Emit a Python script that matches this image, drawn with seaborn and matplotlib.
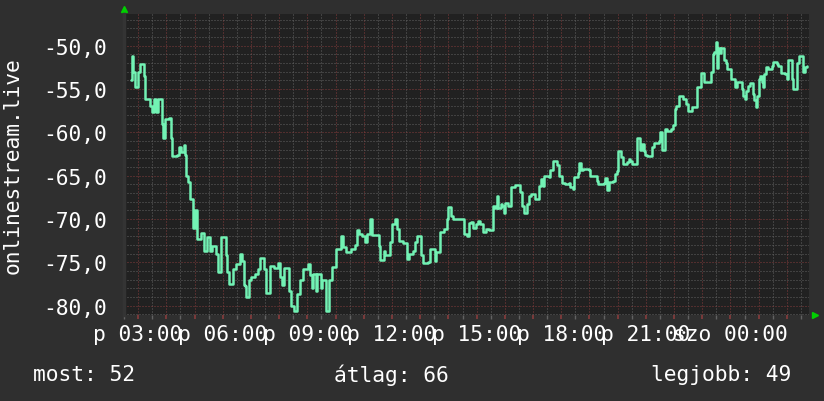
import matplotlib
matplotlib.use("Agg")
import matplotlib.pyplot as plt
import seaborn as sns
import pandas as pd
import numpy as np

# ---- data (minutes since Friday 00:00, signal value) ----
time_min = [164, 166, 169, 173, 180, 184, 190, 192, 194, 203, 206, 210, 213, 218, 222, 227,
            230, 234, 238, 244, 246, 249, 253, 259, 263, 266, 271, 277, 279, 282, 287, 291,
            296, 301, 305, 310, 314, 317, 321, 326, 329, 333, 338, 342, 345, 350, 354, 356,
            363, 366, 369, 373, 379, 382, 386, 389, 393, 396, 400, 403, 405, 407, 410, 414,
            415, 421, 424, 428, 431, 435, 440, 445, 447, 453, 460, 461, 466, 470, 474, 477,
            481, 486, 491, 498, 502, 505, 509, 512, 516, 519, 524, 530, 537, 542, 545, 550,
            552, 558, 561, 565, 569, 572, 576, 580, 585, 586, 590, 593, 597, 600, 607, 611,
            616, 620, 623, 628, 632, 639, 642, 646, 649, 653, 656, 660, 663, 667, 673, 677,
            688, 692, 695, 699, 702, 706, 713, 716, 720, 723, 727, 730, 734, 741, 744, 748,
            751, 757, 762, 765, 769, 774, 779, 781, 785, 793, 797, 801, 808, 811, 814, 822,
            825, 830, 836, 839, 844, 846, 850, 871, 874, 879, 883, 888, 892, 895, 899, 902,
            908, 913, 917, 920, 924, 927, 932, 934, 938, 939, 943, 946, 949, 952, 955, 959,
            961, 964, 967, 971, 974, 978, 982, 990, 992, 996, 997, 1001, 1004, 1008, 1011,
            1015, 1022, 1025, 1029, 1033, 1037, 1042, 1044, 1050, 1054, 1057, 1063, 1068,
            1071, 1075, 1078, 1082, 1085, 1089, 1092, 1096, 1099, 1103, 1105, 1108, 1112,
            1115, 1118, 1122, 1126, 1133, 1134, 1138, 1141, 1152, 1156, 1159, 1166, 1170,
            1173, 1174, 1177, 1181, 1187, 1191, 1194, 1198, 1201, 1205, 1208, 1212, 1215,
            1219, 1221, 1224, 1227, 1231, 1240, 1242, 1245, 1248, 1252, 1255, 1259, 1263,
            1270, 1273, 1277, 1284, 1287, 1291, 1294, 1298, 1301, 1305, 1310, 1314, 1317,
            1321, 1324, 1328, 1331, 1335, 1338, 1342, 1345, 1350, 1356, 1359, 1363, 1368,
            1373, 1377, 1380, 1383, 1394, 1398, 1402, 1405, 1409, 1411, 1413, 1417, 1420,
            1424, 1426, 1430, 1433, 1439, 1442, 1446, 1449, 1453, 1461, 1465, 1467, 1470,
            1474, 1477, 1481, 1486, 1488, 1491, 1494, 1497, 1500, 1503, 1507, 1509, 1512,
            1516, 1519, 1524, 1528, 1531, 1535, 1539, 1542, 1544, 1547, 1553, 1556, 1560,
            1563, 1567, 1570, 1572, 1579, 1582, 1586, 1591, 1595, 1598, 1602]
signal = [-54.0, -51.2, -53.0, -54.8, -53.0, -52.1, -52.1, -53.5, -56.1, -56.1, -57.0, -57.7,
          -56.1, -57.6, -56.1, -56.1, -59.0, -60.6, -58.5, -58.5, -58.3, -60.6, -62.7, -62.7,
          -62.6, -61.7, -62.3, -61.5, -62.6, -65.0, -65.7, -67.7, -71.0, -69.0, -72.3, -72.3,
          -71.6, -71.6, -73.7, -72.1, -72.1, -73.7, -73.1, -73.1, -74.0, -76.1, -76.1, -72.1,
          -72.1, -74.2, -76.1, -77.5, -77.5, -75.8, -75.8, -75.2, -75.2, -74.0, -74.8, -74.8,
          -77.6, -77.7, -79.0, -79.0, -77.0, -76.7, -76.7, -76.3, -76.3, -75.8, -74.5, -74.5,
          -75.8, -78.5, -78.5, -75.4, -75.4, -75.6, -75.6, -75.1, -76.7, -77.6, -75.7, -75.7,
          -78.3, -80.0, -80.0, -80.6, -80.6, -78.7, -77.0, -75.8, -75.8, -75.2, -76.5, -78.0,
          -76.3, -78.3, -76.3, -76.3, -78.0, -77.0, -77.0, -80.6, -80.6, -77.0, -77.0, -75.5,
          -75.5, -73.5, -73.5, -71.9, -73.2, -73.2, -73.8, -73.8, -73.5, -73.5, -73.0, -71.3,
          -71.7, -71.7, -71.9, -71.9, -72.7, -71.7, -70.0, -71.8, -71.8, -73.1, -74.7, -74.7,
          -73.7, -74.2, -74.2, -72.7, -70.6, -70.6, -70.0, -71.2, -72.5, -72.5, -72.8, -72.8,
          -74.6, -74.0, -74.0, -73.7, -72.7, -72.0, -72.0, -74.2, -75.1, -75.1, -75.0, -73.4,
          -73.4, -74.8, -73.8, -71.5, -71.5, -71.1, -70.0, -68.6, -68.6, -69.6, -70.0, -70.0,
          -71.7, -72.0, -70.5, -70.3, -71.0, -71.0, -70.6, -70.2, -70.6, -71.5, -71.5, -71.2,
          -71.2, -71.3, -71.3, -68.5, -68.5, -68.7, -67.4, -68.7, -68.7, -68.3, -68.5, -69.3,
          -68.2, -68.2, -68.5, -68.5, -66.3, -66.3, -66.1, -66.1, -66.9, -68.5, -68.5, -69.3,
          -69.3, -68.3, -67.4, -67.1, -67.1, -67.7, -67.7, -66.2, -65.4, -66.2, -65.0, -65.0,
          -65.1, -64.4, -63.3, -63.3, -63.8, -65.0, -65.0, -65.8, -65.8, -66.0, -66.0, -65.8,
          -66.3, -66.3, -66.5, -65.1, -65.1, -64.7, -63.5, -64.4, -64.2, -64.2, -64.2, -64.4,
          -65.0, -65.0, -65.6, -66.0, -66.0, -65.8, -65.8, -65.3, -66.7, -65.7, -65.7, -65.6,
          -64.8, -64.5, -62.1, -62.1, -62.9, -63.7, -63.7, -63.4, -63.4, -63.1, -63.3, -63.6,
          -63.6, -60.6, -60.6, -62.0, -61.4, -62.1, -62.6, -62.7, -62.7, -61.7, -61.2, -61.2,
          -61.0, -60.0, -62.0, -62.0, -59.6, -59.8, -59.8, -59.6, -59.2, -57.3, -57.0, -57.0,
          -55.8, -55.8, -56.1, -56.1, -56.7, -57.5, -57.5, -57.1, -57.1, -54.8, -54.8, -53.1,
          -53.1, -54.2, -54.2, -53.0, -51.0, -50.7, -49.6, -52.6, -50.3, -50.8, -50.3, -50.3,
          -51.6, -52.0, -52.7, -52.7, -53.9, -53.9, -54.8, -54.2, -54.2, -55.0, -55.8, -56.1,
          -55.2, -54.6, -54.3, -54.3, -55.6, -56.3, -57.1, -55.8, -53.9, -53.5, -54.2, -54.8,
          -53.3, -52.5, -52.7, -52.7, -52.3, -51.9, -51.9, -52.1, -52.3, -52.3, -53.1, -53.1,
          -53.3, -53.9, -51.6, -51.6, -53.9, -55.0, -55.0, -52.0, -51.2, -51.2, -53.0, -52.5,
          -52.3]

x_tick_minutes = [180, 360, 540, 720, 900, 1080, 1260, 1440]
x_tick_labels = ["p 03:00", "p 06:00", "p 09:00", "p 12:00", "p 15:00", "p 18:00",
                 "p 21:00", "szo 00:00"]
y_tick_values = [-80, -75, -70, -65, -60, -55, -50]
y_tick_labels = ["-80,0", "-75,0", "-70,0", "-65,0", "-60,0", "-55,0", "-50,0"]
y_axis_title = "onlinestream.live"
legend_items = ["most: 52", "átlag: 66", "legjobb: 49"]

# ---- style ----
FIG_BG = "#2f2f2f"
PLOT_BG = "#212121"
LINE = "#72f2b4"
MINOR = "#626262"
MAJOR = "#843c3c"
TEXT = "#ffffff"
ARROW = "#00d000"
FS = 15.3

sns.set_theme(style="dark")
plt.rcParams["font.family"] = ["DejaVu Sans Mono"]

fig = plt.figure(figsize=(8.24, 4.02), dpi=100, facecolor=FIG_BG)
ax = fig.add_axes([124 / 824, 86 / 402, 685 / 824, 301 / 402])
ax.set_facecolor(PLOT_BG)

df = pd.DataFrame({"t": time_min, "v": signal})

# grid
ax.set_xlim(162, 1607)
ax.set_ylim(-81.07, -46.35)
major_x = list(np.arange(180, 1607, 60))
ax.set_xticks(major_x)
ax.set_xticks(np.arange(150, 1607, 30), minor=True)
ax.set_yticks(y_tick_values)
ax.set_yticks(np.arange(-81, -46, 1), minor=True)
ax.grid(which="minor", color=MINOR, linestyle=(0, (1, 2)), linewidth=0.72)
ax.grid(which="major", color=MAJOR, linestyle=(0, (1, 2)), linewidth=0.72)
ax.set_axisbelow(True)

sns.lineplot(data=df, x="t", y="v", ax=ax, color=LINE, linewidth=1.8,
             estimator=None, sort=False, zorder=5, drawstyle="steps-post")

# ticks / labels
lbls = []
for m in major_x:
    if m in x_tick_minutes:
        lbls.append(x_tick_labels[x_tick_minutes.index(m)])
    else:
        lbls.append("")
ax.set_xticklabels(lbls)
ax.set_yticklabels(y_tick_labels)
ax.tick_params(axis="x", which="major", length=3, color=MAJOR, labelcolor=TEXT,
               labelsize=FS, pad=3.5)
ax.tick_params(axis="x", which="minor", length=3, color=MINOR)
ax.tick_params(axis="y", which="both", length=0, labelcolor=TEXT, labelsize=FS, pad=12)
ax.tick_params(axis="x", which="both", bottom=True)
ax.set_xlabel("")
ax.set_ylabel("")
fig.text(13 / 824, 1 - 165.5 / 402, y_axis_title, color=TEXT, fontsize=FS,
         rotation=90, ha="center", va="center")

for s in ax.spines.values():
    s.set_visible(False)
ax.spines["left"].set_visible(True)
ax.spines["left"].set_color("#343434")
ax.spines["left"].set_linewidth(2.5)

# axis arrows
ax.plot([0], [1.018], marker="^", color=ARROW, markersize=4.5, transform=ax.transAxes,
        clip_on=False)
ax.plot([1.009], [0], marker=">", color=ARROW, markersize=4.5, transform=ax.transAxes,
        clip_on=False)

# summary texts
fig.text(33 / 824, 1 - 375 / 402, legend_items[0], color=TEXT, fontsize=FS,
         ha="left", va="center")
fig.text(334 / 824, 1 - 375 / 402, legend_items[1], color=TEXT, fontsize=FS,
         ha="left", va="center")
fig.text(791 / 824, 1 - 375 / 402, legend_items[2], color=TEXT, fontsize=FS,
         ha="right", va="center")

fig.savefig("out.png", dpi=100, facecolor=FIG_BG)
